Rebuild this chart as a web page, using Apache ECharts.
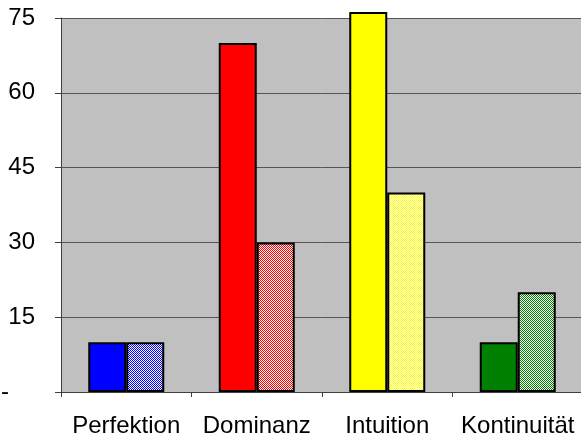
<!DOCTYPE html>
<html><head><meta charset="utf-8">
<script src="https://cdn.jsdelivr.net/npm/echarts@6/dist/echarts.min.js"></script>
<style>html,body{margin:0;padding:0;background:#fff}#c{width:581px;height:438px}</style>
</head><body><div id="c"></div>
<script>
const categories = ['Perfektion', 'Dominanz', 'Intuition', 'Kontinuität'];
const solidValues = [10, 70, 76.2, 10];
const patternValues = [10, 30, 40, 20];
const colors = ['#0000ff', '#ff0000', '#ffff00', '#008000'];
const yTickLabels = {0: '-', 15: '15', 30: '30', 45: '45', 60: '60', 75: '75'};

function checker(color) {
  const c = document.createElement('canvas');
  c.width = 2; c.height = 2;
  const g = c.getContext('2d');
  g.fillStyle = '#ffffff'; g.fillRect(0, 0, 2, 2);
  g.fillStyle = color; g.fillRect(0, 0, 1, 1); g.fillRect(1, 1, 1, 1);
  return { image: c, repeat: 'repeat' };
}

const chart = echarts.init(document.getElementById('c'), null, {renderer: 'canvas'});
chart.setOption({
  animation: false,
  grid: { left: 61, right: -2, top: 18, bottom: 46, show: true, backgroundColor: '#c0c0c0', borderWidth: 0,
          containLabel: false, outerBoundsMode: 'none' },
  xAxis: {
    type: 'category', data: categories,
    axisLine: { lineStyle: { color: '#404040', width: 1 } },
    axisTick: { show: true, length: 5, lineStyle: { color: '#404040' } },
    axisLabel: { color: '#000', fontFamily: 'Liberation Sans, Arial', fontSize: 24, margin: 22,
                 interval: 0, hideOverlap: false }
  },
  yAxis: {
    type: 'value', min: 0, max: 75, interval: 15,
    axisLine: { show: true, lineStyle: { color: '#404040', width: 1 } },
    axisTick: { show: true, length: 6, lineStyle: { color: '#404040' } },
    axisLabel: { color: '#000', fontFamily: 'Liberation Sans, Arial', fontSize: 24, margin: 26,
      formatter: v => v === 0 ? '{d|' + yTickLabels[v] + '}' : (yTickLabels[v] !== undefined ? yTickLabels[v] : ''),
      rich: { d: { fontFamily: 'Liberation Sans, Arial', fontSize: 24, color: '#000', padding: [0, 26, 0, 0] } } },
    splitLine: { show: true, lineStyle: { color: '#555', width: 1 } }
  },
  series: [
    {
      type: 'bar', clip: false, barWidth: 38, barGap: 0,
      data: solidValues.map((v, i) => ({ value: v, itemStyle: { color: colors[i] } })),
      itemStyle: { borderColor: '#000', borderWidth: 2 }
    },
    {
      type: 'bar', barWidth: 38, barGap: 0,
      data: patternValues.map((v, i) => ({ value: v, itemStyle: { color: checker(colors[i]) } })),
      itemStyle: { borderColor: '#000', borderWidth: 2 }
    }
  ]
});
</script></body></html>
